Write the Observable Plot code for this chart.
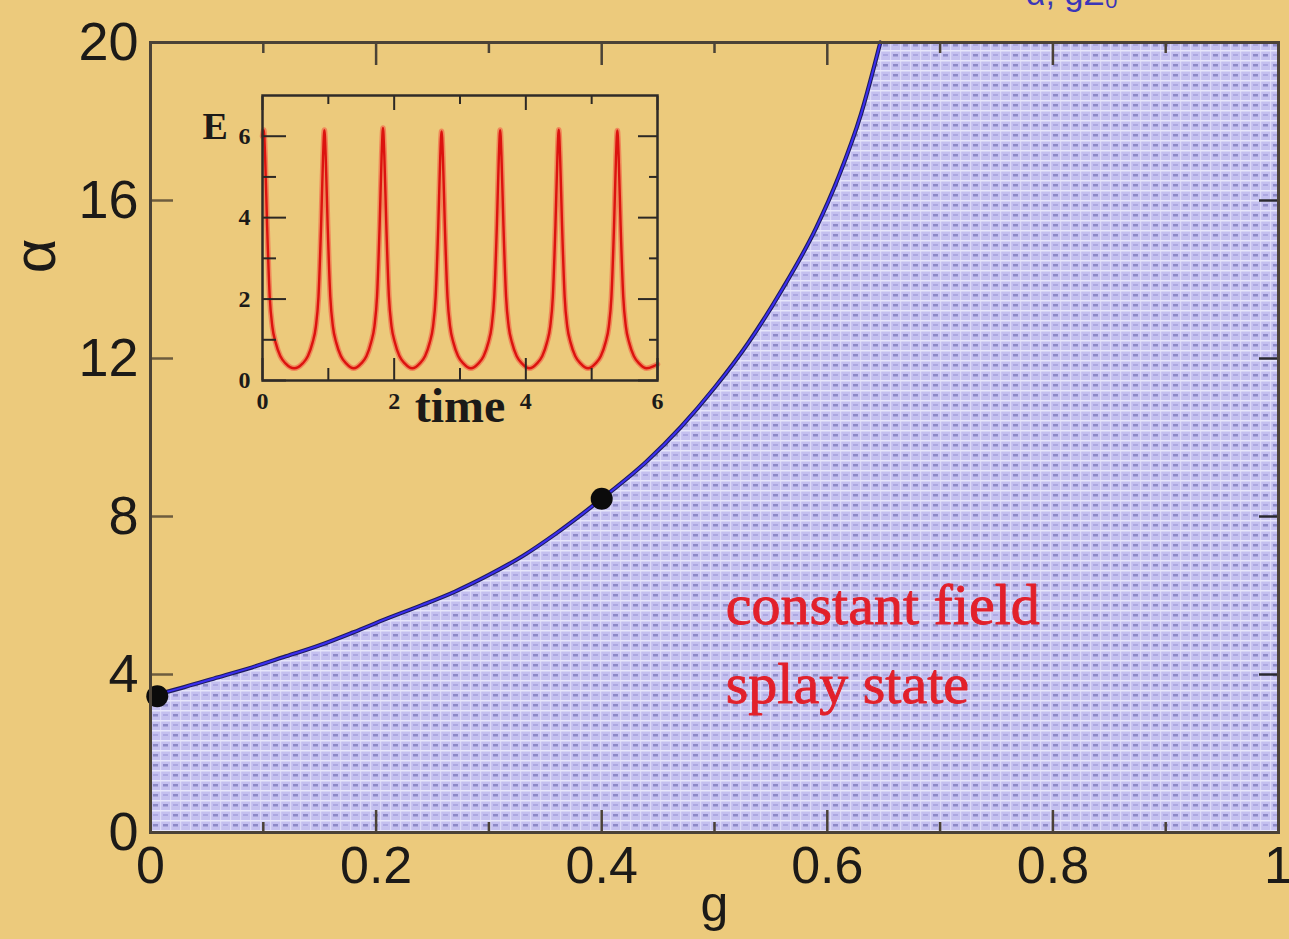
<!DOCTYPE html>
<html>
<head>
<meta charset="utf-8">
<script src="https://cdn.jsdelivr.net/npm/d3@7"></script>
<script src="https://cdn.jsdelivr.net/npm/@observablehq/plot@0.6"></script>
<style>
  html, body { margin: 0; padding: 0; background: #ecca7c; }
  #figure { position: relative; width: 1289px; height: 939px; overflow: hidden; }
  #figure svg { position: absolute; }
</style>
</head>
<body>
<div id="figure"></div>
<script>
// ---- phase diagram (g, alpha) ----
const gDomain = [0, 1];
const alphaDomain = [0, 20];
const gMajor = [0, 0.2, 0.4, 0.6, 0.8, 1];
const gMinor = [0.1, 0.3, 0.5, 0.7, 0.9];
const gTickLabels = ["0", "0.2", "0.4", "0.6", "0.8", "1"];
const alphaMajor = [0, 4, 8, 12, 16, 20];
const alphaTickLabels = ["0", "4", "8", "12", "16", "20"];

// stability boundary of the splay state
const boundaryG     = [0, 0.03, 0.06, 0.09, 0.12, 0.15, 0.18, 0.21, 0.24, 0.27, 0.30, 0.33, 0.36, 0.40, 0.44, 0.47, 0.50, 0.53, 0.56, 0.59, 0.61, 0.63, 0.647];
const boundaryAlpha = [3.45, 3.68, 3.93, 4.18, 4.46, 4.74, 5.07, 5.42, 5.75, 6.10, 6.52, 7.00, 7.58, 8.45, 9.40, 10.26, 11.26, 12.40, 13.75, 15.30, 16.60, 18.20, 20.0];

// marked parameter points
const markedG = [0.006, 0.4];
const markedAlpha = [3.45, 8.45];

const regionText = ["constant field", "splay state"];
const regionTextG = [0.51, 0.51];
const regionTextAlpha = [5.27, 3.29];

// ---- inset: field E versus time ----
const timeDomain = [0, 6];
const energyDomain = [0, 7];
const timeMajor = [0, 2, 4, 6];
const timeMinor = [1, 3, 5];
const energyMajor = [0, 2, 4, 6];
const energyMinor = [1, 3, 5];

const eTime = [
  0, 0.02, 0.04, 0.07, 0.11, 0.15, 0.20, 0.27, 0.35, 0.48,
  0.61, 0.69, 0.76, 0.81, 0.85, 0.89, 0.92, 0.94, 0.96, 0.99, 1.03, 1.07, 1.12, 1.19, 1.27, 1.385,
  1.50, 1.58, 1.65, 1.70, 1.74, 1.78, 1.81, 1.83, 1.85, 1.88, 1.92, 1.96, 2.01, 2.08, 2.16, 2.275,
  2.39, 2.47, 2.54, 2.59, 2.63, 2.67, 2.70, 2.72, 2.74, 2.77, 2.81, 2.85, 2.90, 2.97, 3.05, 3.165,
  3.28, 3.36, 3.43, 3.48, 3.52, 3.56, 3.59, 3.61, 3.63, 3.66, 3.70, 3.74, 3.79, 3.86, 3.94, 4.055,
  4.17, 4.25, 4.32, 4.37, 4.41, 4.45, 4.48, 4.50, 4.52, 4.55, 4.59, 4.63, 4.68, 4.75, 4.83, 4.945,
  5.06, 5.14, 5.21, 5.26, 5.30, 5.34, 5.37, 5.39, 5.41, 5.44, 5.48, 5.52, 5.57, 5.64, 5.72, 5.835,
  5.95, 6.0
];
const eValue = [
  6.00, 6.15, 5.50, 3.80, 2.05, 1.32, 0.93, 0.60, 0.42, 0.30,
  0.42, 0.60, 0.93, 1.32, 2.05, 3.80, 5.50, 6.15, 5.50, 3.80, 2.05, 1.32, 0.93, 0.60, 0.42, 0.30,
  0.42, 0.60, 0.94, 1.33, 2.07, 3.85, 5.55, 6.20, 5.55, 3.85, 2.07, 1.33, 0.94, 0.60, 0.42, 0.30,
  0.42, 0.60, 0.93, 1.32, 2.05, 3.80, 5.50, 6.12, 5.50, 3.80, 2.05, 1.32, 0.93, 0.60, 0.42, 0.30,
  0.42, 0.60, 0.93, 1.32, 2.05, 3.80, 5.50, 6.15, 5.50, 3.80, 2.05, 1.32, 0.93, 0.60, 0.42, 0.30,
  0.42, 0.60, 0.93, 1.32, 2.05, 3.82, 5.52, 6.16, 5.52, 3.82, 2.05, 1.32, 0.93, 0.60, 0.42, 0.30,
  0.42, 0.60, 0.93, 1.32, 2.05, 3.80, 5.50, 6.14, 5.50, 3.80, 2.05, 1.32, 0.93, 0.60, 0.42, 0.30,
  0.36, 0.40
];

// ---- tables built from the arrays ----
const boundaryRows = boundaryG.map((g, i) => ({g, a: boundaryAlpha[i]}));
const regionRows = [...boundaryRows, {g: gDomain[1], a: alphaDomain[1]}];
const markedRows = markedG.map((g, i) => ({g, a: markedAlpha[i]}));
const textRows = regionText.map((t, i) => ({t, g: regionTextG[i], a: regionTextAlpha[i]}));
const eRows = eTime.map((t, i) => ({t, e: eValue[i]}));

const frameInk = "#4b4236";
const sans = "'Liberation Sans', Arial, Helvetica, sans-serif";
const serif = "'Liberation Serif', 'Times New Roman', serif";

// dotted lavender texture for the stable region
function stippleDefs() {
  const defs = d3.create("svg:defs");
  const p = defs.append("pattern")
    .attr("id", "stipple").attr("patternUnits", "userSpaceOnUse")
    .attr("width", 40).attr("height", 40);
  p.append("rect").attr("width", 40).attr("height", 40).attr("fill", "#c4c0ef");
  for (let k = 0; k < 4; k++) p.append("rect").attr("x", 0).attr("y", k * 10).attr("width", 40).attr("height", 1.5).attr("fill", "#eeedfd").attr("opacity", 0.85);
  for (let j = 0; j < 4; j++) p.append("rect").attr("x", j * 10).attr("y", 0).attr("width", 1.2).attr("height", 40).attr("fill", "#e6e4fb").attr("opacity", 0.7);
  const mask = [[1, 0, 1, 1], [0, 1, 1, 0], [1, 1, 0, 1], [0, 1, 0, 1]];
  mask.forEach((row, k) => row.forEach((on, j) => {
    if (on) p.append("rect").attr("x", j * 10 + 3).attr("y", k * 10 + 4).attr("width", 5).attr("height", 2.5).attr("fill", "#55519f").attr("opacity", 0.5);
    else p.append("rect").attr("x", j * 10 + 3).attr("y", k * 10 + 4).attr("width", 5).attr("height", 2).attr("fill", "#8e8ad0").attr("opacity", 0.45);
  }));
  return defs.node();
}

const fmtG = d => gTickLabels[gMajor.indexOf(d)];
const fmtA = d => alphaTickLabels[alphaMajor.indexOf(d)];
const blank = () => "";

const main = Plot.plot({
  width: 1289,
  height: 939,
  marginLeft: 150,
  marginRight: 11,
  marginTop: 42,
  marginBottom: 107,
  style: {background: "#ecca7c", color: "#1c1a18", fontFamily: sans, overflow: "visible", left: "0px", top: "0px"},
  x: {domain: gDomain, axis: null},
  y: {domain: alphaDomain, axis: null},
  marks: [
    stippleDefs,
    Plot.areaY(regionRows, {x: "g", y: "a", fill: "url(#stipple)"}),
    Plot.line(boundaryRows, {x: "g", y: "a", curve: "monotone-x", stroke: "#1d1b5c", strokeWidth: 4.2}),
    Plot.line(boundaryRows, {x: "g", y: "a", curve: "monotone-x", stroke: "#3b2ef0", strokeWidth: 2}),
    Plot.dot(markedRows, {x: "g", y: "a", r: 11, fill: "#0b0b0b"}),
    Plot.text(textRows, {x: "g", y: "a", text: "t", textAnchor: "start", lineAnchor: "bottom", fontSize: 58, fontFamily: serif, fill: "#e2202a", stroke: "#e2202a", strokeWidth: 0.9}),
    // inward ticks on all four sides
    Plot.axisX(gMajor, {anchor: "bottom", tickSize: -22, tickFormat: blank, stroke: frameInk, strokeWidth: 2.5, label: null}),
    Plot.axisX(gMinor, {anchor: "bottom", tickSize: -10, tickFormat: blank, stroke: frameInk, strokeWidth: 2.5, label: null}),
    Plot.axisX(gMajor, {anchor: "top", tickSize: -22, tickFormat: blank, stroke: frameInk, strokeWidth: 2.5, label: null}),
    Plot.axisX(gMinor, {anchor: "top", tickSize: -10, tickFormat: blank, stroke: frameInk, strokeWidth: 2.5, label: null}),
    Plot.axisY(alphaMajor, {anchor: "left", tickSize: -23, tickFormat: blank, stroke: "#6e5c3e", strokeWidth: 2.5, label: null}),
    Plot.axisY(alphaMajor, {anchor: "right", tickSize: -20, tickFormat: blank, stroke: "#2a2a30", strokeWidth: 2.5, label: null}),
    // tick labels
    Plot.axisX(gMajor, {anchor: "bottom", tickSize: 0, tickPadding: 14, tickFormat: fmtG, fontSize: 52, label: null}),
    Plot.axisY(alphaMajor, {anchor: "left", tickSize: 0, tickPadding: 12, tickFormat: fmtA, fontSize: 54, label: null}),
    Plot.frame({stroke: frameInk, strokeWidth: 3}),
    // axis titles
    Plot.text(["α"], {x: gDomain[0], y: 14.6, dx: -115, rotate: -90, fontSize: 60, fill: "#1c1a18"}),
    Plot.text(["g"], {x: 0.5, frameAnchor: "bottom", dy: 88, fontSize: 50, fill: "#1c1a18"}),
    Plot.text(["α, gΣ₀"], {x: 0.776, y: 20.96, textAnchor: "start", lineAnchor: "bottom", fontSize: 34, fill: "#3b36b8"})
  ]
});

const inset = Plot.plot({
  width: 480,
  height: 360,
  marginLeft: 82,
  marginRight: 3,
  marginTop: 15,
  marginBottom: 60,
  style: {background: "none", color: "#1c1a18", fontFamily: serif, overflow: "visible", left: "180px", top: "80px"},
  x: {domain: timeDomain, axis: null},
  y: {domain: energyDomain, axis: null},
  marks: [
    Plot.line(eRows, {x: "t", y: "e", curve: "monotone-x", stroke: "#f2714f", strokeWidth: 5.5, strokeOpacity: 0.75}),
    Plot.line(eRows, {x: "t", y: "e", curve: "monotone-x", stroke: "#dc130f", strokeWidth: 2.4}),
    Plot.axisX(timeMajor, {anchor: "bottom", tickSize: -22, tickFormat: blank, stroke: "#2c2824", strokeWidth: 2, label: null}),
    Plot.axisX(timeMinor, {anchor: "bottom", tickSize: -12, tickFormat: blank, stroke: "#2c2824", strokeWidth: 2, label: null}),
    Plot.axisX(timeMajor, {anchor: "top", tickSize: -14, tickFormat: blank, stroke: "#2c2824", strokeWidth: 2, label: null}),
    Plot.axisX(timeMinor, {anchor: "top", tickSize: -8, tickFormat: blank, stroke: "#2c2824", strokeWidth: 2, label: null}),
    Plot.axisY(energyMajor, {anchor: "left", tickSize: -24, tickFormat: blank, stroke: "#2c2824", strokeWidth: 2, label: null}),
    Plot.axisY(energyMinor, {anchor: "left", tickSize: -14, tickFormat: blank, stroke: "#2c2824", strokeWidth: 2, label: null}),
    Plot.axisY(energyMajor, {anchor: "right", tickSize: -20, tickFormat: blank, stroke: "#2c2824", strokeWidth: 2, label: null}),
    Plot.axisY(energyMinor, {anchor: "right", tickSize: -9, tickFormat: blank, stroke: "#2c2824", strokeWidth: 2, label: null}),
    Plot.axisX(timeMajor, {anchor: "bottom", tickSize: 0, tickPadding: 11, fontSize: 24, fontWeight: "bold", label: null}),
    Plot.axisY(energyMajor, {anchor: "left", tickSize: 0, tickPadding: 12, fontSize: 24, fontWeight: "bold", label: null}),
    Plot.frame({stroke: "#2f2b27", strokeWidth: 2.5}),
    Plot.text(["E"], {frameAnchor: "top-left", dx: -60, dy: 17, fontSize: 38, fontWeight: "bold", fill: "#1c1a18"}),
    Plot.text(["time"], {frameAnchor: "bottom", dy: 41, fontSize: 48, fontWeight: "bold", fill: "#1c1a18"})
  ]
});

const fig = document.getElementById("figure");
fig.appendChild(main);
fig.appendChild(inset);
</script>
</body>
</html>
